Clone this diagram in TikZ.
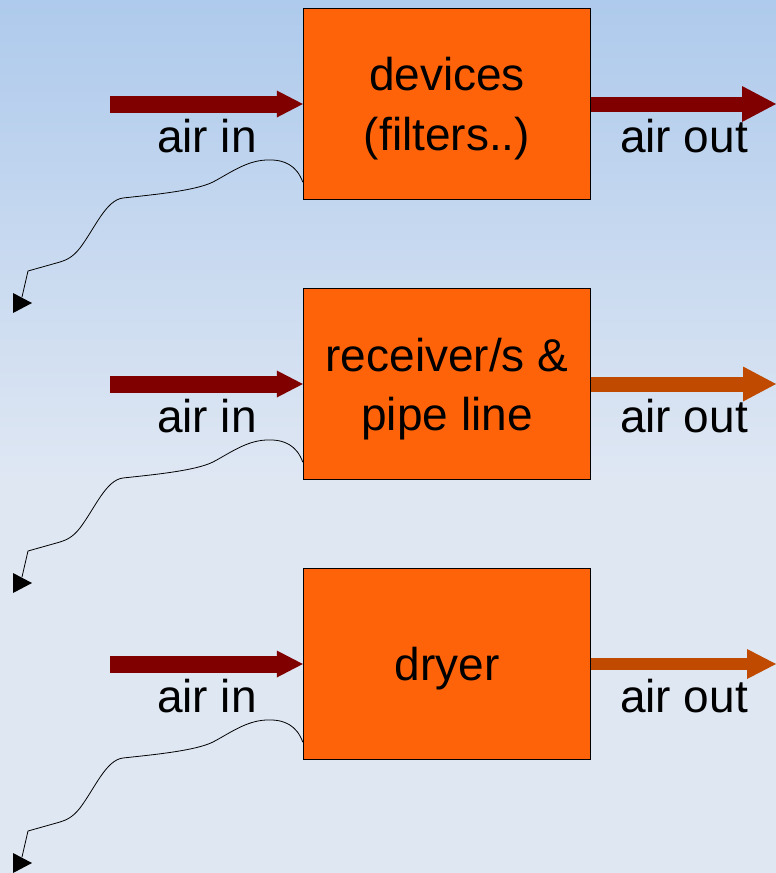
\documentclass[tikz,border=0pt]{standalone}
\usepackage{fontspec}
\setmainfont{Liberation Sans}
\usetikzlibrary{arrows.meta}
\definecolor{skytop}{RGB}{174,202,236}
\definecolor{skybottom}{RGB}{223,231,243}
\definecolor{boxorange}{RGB}{255,99,10}
\definecolor{darkred}{RGB}{128,0,0}
\definecolor{rustred}{RGB}{191,74,0}
\newcommand{\bigtext}{\fontsize{46}{57}\selectfont}

\begin{document}
\begin{tikzpicture}[x=1pt,y=-1pt,
    unitbox/.style={draw, line width=1.4pt, fill=boxorange, minimum width=287pt, minimum height=191pt, align=center, font=\bigtext, text depth=0pt},
    airlabel/.style={font=\bigtext, anchor=base, inner sep=0pt},
    airin/.style={draw=darkred, line width=17pt, -{Triangle[length=26pt, width=27pt, line width=0pt]}},
    airout/.style n args={4}{draw=#1, line width=#2, -{Triangle[length=#3, width=#4, line width=0pt]}},
    drain/.style={draw=black, line width=0.8pt}]
\useasboundingbox (0,0) rectangle (776,873);
% background
\shade[top color=skytop, bottom color=skybottom] (0,0) rectangle (776,480);
\fill[skybottom] (0,479) rectangle (776,873);

% the three units
\node[unitbox] (dev) at (447,104) {devices\\[3pt](filters..)};
\node[unitbox] (rec) at (447,384) {receiver/s \&\\[2pt]pipe line};
\node[unitbox] (dry) at (447,664) {dryer};

% air in, air out and the drain of each unit
\foreach \b/\dy/\oc/\ow/\ol/\oh in {dev/0/darkred/15pt/34pt/36pt, rec/280/rustred/15pt/33pt/35pt, dry/560/rustred/12pt/29pt/30pt}{
  \begin{scope}[shift={(0,\dy)}]
    \coordinate (\b-src) at (110,104);
    \coordinate (\b-sink) at (776,104);
    \coordinate (\b-drain) at (22,297);
    \draw[airin] (\b-src) -- (\b.west);
    \draw[airout={\oc}{\ow}{\ol}{\oh}] (\b.east) -- (\b-sink);
    \node[airlabel] (\b-inlabel) at (207,152) {air in};
    \node[airlabel] (\b-outlabel) at (684,152) {air out};
    \draw[drain] ([yshift=18pt]\b.south west) .. controls (297,166) and (285,159) .. (266,160)
      .. controls (246,161) and (230,173) .. (213,182)
      .. controls (195,191) and (150,195) .. (123,198)
      .. controls (106,200) and (95,228) .. (80,248)
      .. controls (72,258) and (66,260) .. (60,262)
      -- (28,271) -- (\b-drain);
    \fill (\b-drain) ++(-9,-4) -- ++(0,20) -- ++(19,-10) -- cycle;
  \end{scope}
}
\end{tikzpicture}
\end{document}
